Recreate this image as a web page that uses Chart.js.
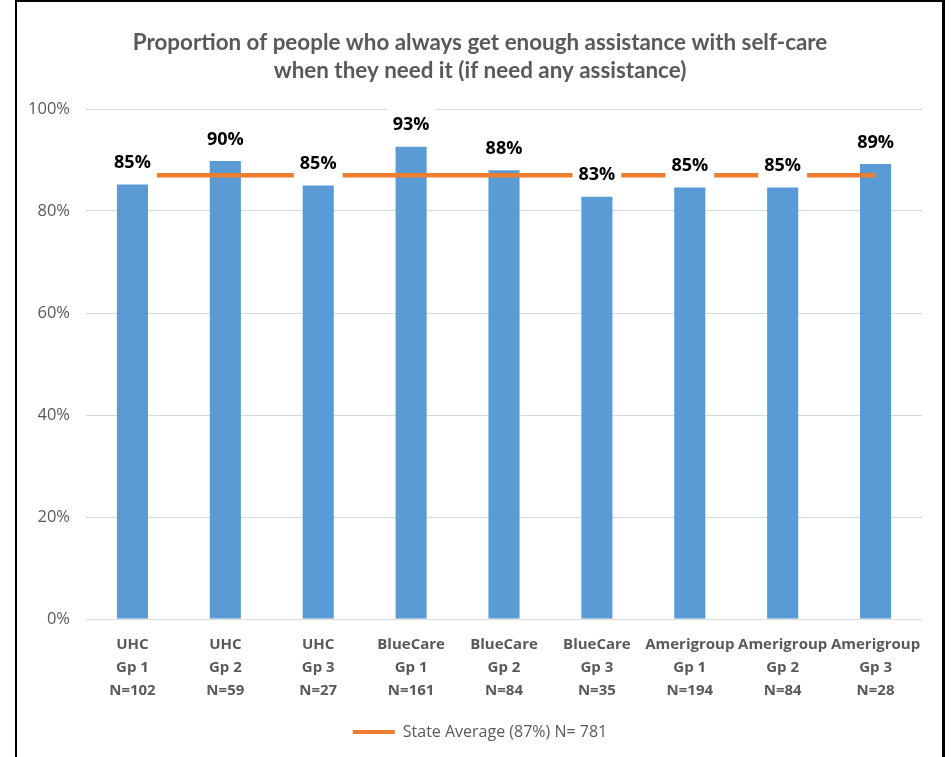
<!DOCTYPE html>
<html>
<head>
<meta charset="utf-8">
<script src="https://cdn.jsdelivr.net/npm/chart.js@4.4.1/dist/chart.umd.min.js"></script>
<style>
  html, body { margin: 0; padding: 0; background: #ffffff; }
  #wrap { width: 951px; height: 757px; position: relative; }
</style>
</head>
<body>
<div id="wrap"><canvas id="c" width="951" height="757"></canvas></div>
<script>
// Plan groups (three lines per axis label)
const categories = [
  ['UHC', 'Gp 1', 'N=102'],
  ['UHC', 'Gp 2', 'N=59'],
  ['UHC', 'Gp 3', 'N=27'],
  ['BlueCare', 'Gp 1', 'N=161'],
  ['BlueCare', 'Gp 2', 'N=84'],
  ['BlueCare', 'Gp 3', 'N=35'],
  ['Amerigroup', 'Gp 1', 'N=194'],
  ['Amerigroup', 'Gp 2', 'N=84'],
  ['Amerigroup', 'Gp 3', 'N=28']
];
// Percent who always get enough assistance
const groupValues = [85.2, 89.8, 85.0, 92.6, 88.0, 82.8, 84.6, 84.6, 89.2];
// State average, repeated across every group
const stateAverageLine = [87, 87, 87, 87, 87, 87, 87, 87, 87];
const stateAverageLabel = 'State Average (87%) N= 781';
const yTicks = [0, 20, 40, 60, 80, 100];

const SANS = '"Open Sans", Lato, sans-serif';
const TITLE_FONT = 'Lato, "Open Sans", sans-serif';
const GREY = '#595959';

// White page with the black frame lines
const framePlugin = {
  id: 'frame',
  beforeDraw(chart) {
    const ctx = chart.ctx;
    ctx.save();
    ctx.fillStyle = '#ffffff';
    ctx.fillRect(0, 0, chart.width, chart.height);
    ctx.restore();
  },
  afterDraw(chart) {
    const ctx = chart.ctx;
    ctx.save();
    ctx.fillStyle = '#000000';
    ctx.fillRect(15, 0, 2, chart.height);
    ctx.fillRect(15, 0, 930, 2);
    ctx.fillRect(942, 0, 3, chart.height);
    ctx.restore();
  }
};

// Value labels above each bar, on a white box that hides lines behind them
const valueLabelPlugin = {
  id: 'valueLabels',
  afterDatasetsDraw(chart) {
    const ctx = chart.ctx;
    const meta = chart.getDatasetMeta(0);
    const ds = chart.data.datasets[0];
    ctx.save();
    ctx.font = 'bold 18px ' + SANS;
    ctx.textAlign = 'center';
    ctx.textBaseline = 'middle';
    meta.data.forEach((bar, i) => {
      const text = Math.round(ds.data[i]) + '%';
      const cy = bar.y - 21.5;
      const w = ctx.measureText(text).width + 12;
      ctx.fillStyle = '#ffffff';
      ctx.fillRect(bar.x - w / 2, cy - 19, w, 36);
      ctx.fillStyle = '#000000';
      ctx.fillText(text, bar.x, cy);
    });
    ctx.restore();
  }
};

new Chart(document.getElementById('c'), {
  type: 'bar',
  data: {
    labels: categories,
    datasets: [
      {
        type: 'bar',
        label: 'Groups',
        data: groupValues,
        backgroundColor: '#5B9BD5',
        barPercentage: 0.335,
        categoryPercentage: 1.0,
        order: 2
      },
      {
        type: 'line',
        label: stateAverageLabel,
        data: stateAverageLine,
        borderColor: '#ED7D31',
        backgroundColor: '#ED7D31',
        borderWidth: 4.5,
        pointRadius: 0,
        pointHoverRadius: 0,
        tension: 0,
        order: 1
      }
    ]
  },
  options: {
    responsive: false,
    animation: false,
    events: [],
    layout: { padding: { left: 15, right: 6, top: 0, bottom: 7 } },
    plugins: {
      title: {
        display: true,
        text: [
          'Proportion of people who always get enough assistance with self-care',
          'when they need it (if need any assistance)'
        ],
        color: GREY,
        font: { family: TITLE_FONT, size: 22.4, weight: 'bold', lineHeight: 28 / 22.4 },
        padding: { top: 29, bottom: 24 }
      },
      legend: {
        display: true,
        position: 'bottom',
        labels: {
          color: GREY,
          font: { family: SANS, size: 16 },
          boxWidth: 42,
          boxHeight: 4,
          padding: 16,
          filter: (item) => item.datasetIndex === 1,
          generateLabels(chart) {
            const items = Chart.defaults.plugins.legend.labels.generateLabels(chart);
            items.forEach(it => { it.lineWidth = 0; });
            return items;
          }
        }
      },
      tooltip: { enabled: false }
    },
    scales: {
      x: {
        offset: true,
        grid: { display: false },
        border: { display: false },
        ticks: {
          color: GREY,
          font: { family: SANS, size: 15, weight: 'bold', lineHeight: 23 / 15 },
          padding: 6,
          maxRotation: 0,
          autoSkip: false
        }
      },
      y: {
        min: 0,
        max: 100,
        afterBuildTicks(scale) {
          scale.ticks = yTicks.map(v => ({ value: v }));
        },
        afterFit(scale) { scale.width = 86 - 15; },
        grid: { color: '#D9D9D9', lineWidth: 1, drawTicks: false },
        border: { display: false },
        ticks: {
          color: GREY,
          font: { family: SANS, size: 16.5 },
          padding: 16,
          callback: (v) => v + '%'
        }
      },
      yRight: {
        position: 'right',
        display: true,
        min: 0,
        max: 100,
        grid: { display: false, drawTicks: false },
        border: { display: false },
        ticks: { display: false },
        afterFit(scale) { scale.width = 945 - 922; }
      }
    }
  },
  plugins: [framePlugin, valueLabelPlugin]
});
</script>
</body>
</html>
